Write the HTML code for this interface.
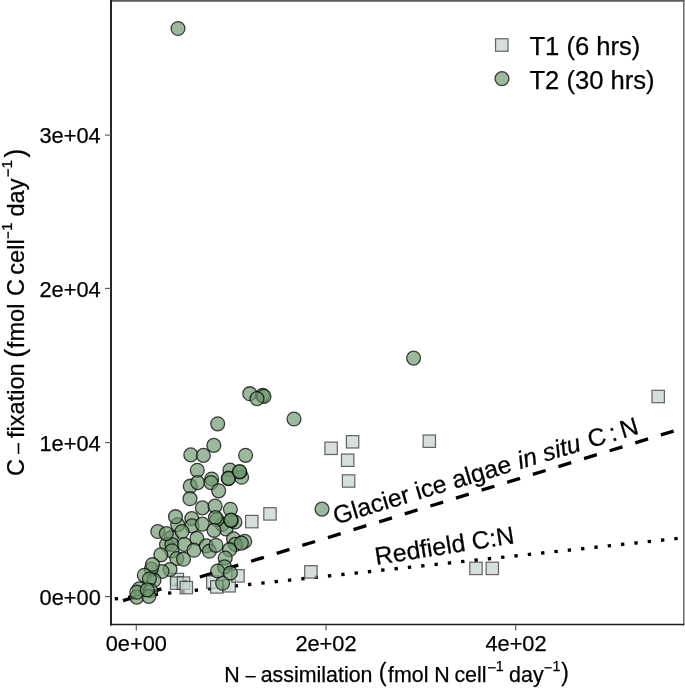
<!DOCTYPE html>
<html><head><meta charset="utf-8"><style>
html,body{margin:0;padding:0;background:#fff;}
svg{display:block;}
text{font-family:"Liberation Sans",sans-serif;fill:#000;stroke:#000;stroke-width:0.25px;}
</style></head><body>
<div style="position:relative;width:685px;height:688px;overflow:hidden">
<svg width="685" height="688" viewBox="0 0 685 688" style="position:absolute;left:0;top:0">
<rect x="0" y="0" width="685" height="688" fill="#fff"/>
<defs><clipPath id="pc"><rect x="111" y="0.5" width="572.5" height="624.3"/></clipPath></defs>

<g clip-path="url(#pc)">
<line x1="71.80" y1="616.47" x2="700.00" y2="422.92" stroke="#000" stroke-width="3.35" stroke-dasharray="13.400 13.400"/>
<line x1="88.09" y1="601.78" x2="700.00" y2="536.04" stroke="#000" stroke-width="3.35" stroke-dasharray="3.350 10.050"/>
<rect x="652.00" y="390.30" width="12.4" height="12.4" fill="rgba(196,209,206,0.7)" stroke="rgba(40,40,40,0.7)" stroke-width="1.2"/>
<rect x="423.10" y="435.00" width="12.4" height="12.4" fill="rgba(196,209,206,0.7)" stroke="rgba(40,40,40,0.7)" stroke-width="1.2"/>
<rect x="346.40" y="435.60" width="12.4" height="12.4" fill="rgba(196,209,206,0.7)" stroke="rgba(40,40,40,0.7)" stroke-width="1.2"/>
<rect x="324.90" y="442.10" width="12.4" height="12.4" fill="rgba(196,209,206,0.7)" stroke="rgba(40,40,40,0.7)" stroke-width="1.2"/>
<rect x="341.50" y="454.00" width="12.4" height="12.4" fill="rgba(196,209,206,0.7)" stroke="rgba(40,40,40,0.7)" stroke-width="1.2"/>
<rect x="342.40" y="474.80" width="12.4" height="12.4" fill="rgba(196,209,206,0.7)" stroke="rgba(40,40,40,0.7)" stroke-width="1.2"/>
<rect x="263.80" y="507.70" width="12.4" height="12.4" fill="rgba(196,209,206,0.7)" stroke="rgba(40,40,40,0.7)" stroke-width="1.2"/>
<rect x="245.60" y="515.40" width="12.4" height="12.4" fill="rgba(196,209,206,0.7)" stroke="rgba(40,40,40,0.7)" stroke-width="1.2"/>
<rect x="304.70" y="565.70" width="12.4" height="12.4" fill="rgba(196,209,206,0.7)" stroke="rgba(40,40,40,0.7)" stroke-width="1.2"/>
<rect x="469.80" y="562.20" width="12.4" height="12.4" fill="rgba(196,209,206,0.7)" stroke="rgba(40,40,40,0.7)" stroke-width="1.2"/>
<rect x="486.10" y="562.20" width="12.4" height="12.4" fill="rgba(196,209,206,0.7)" stroke="rgba(40,40,40,0.7)" stroke-width="1.2"/>
<rect x="171.10" y="573.30" width="12.4" height="12.4" fill="rgba(196,209,206,0.7)" stroke="rgba(40,40,40,0.7)" stroke-width="1.2"/>
<rect x="170.40" y="576.90" width="12.4" height="12.4" fill="rgba(196,209,206,0.7)" stroke="rgba(40,40,40,0.7)" stroke-width="1.2"/>
<rect x="177.30" y="576.90" width="12.4" height="12.4" fill="rgba(196,209,206,0.7)" stroke="rgba(40,40,40,0.7)" stroke-width="1.2"/>
<rect x="180.10" y="581.40" width="12.4" height="12.4" fill="rgba(196,209,206,0.7)" stroke="rgba(40,40,40,0.7)" stroke-width="1.2"/>
<rect x="206.60" y="575.90" width="12.4" height="12.4" fill="rgba(196,209,206,0.7)" stroke="rgba(40,40,40,0.7)" stroke-width="1.2"/>
<rect x="210.60" y="580.70" width="12.4" height="12.4" fill="rgba(196,209,206,0.7)" stroke="rgba(40,40,40,0.7)" stroke-width="1.2"/>
<rect x="223.00" y="579.60" width="12.4" height="12.4" fill="rgba(196,209,206,0.7)" stroke="rgba(40,40,40,0.7)" stroke-width="1.2"/>
<rect x="231.80" y="569.70" width="12.4" height="12.4" fill="rgba(196,209,206,0.7)" stroke="rgba(40,40,40,0.7)" stroke-width="1.2"/>
<circle cx="178" cy="28.5" r="6.95" fill="rgba(110,150,110,0.68)" stroke="rgba(0,0,0,0.72)" stroke-width="1.3"/>
<circle cx="413.6" cy="358.1" r="6.95" fill="rgba(110,150,110,0.68)" stroke="rgba(0,0,0,0.72)" stroke-width="1.3"/>
<circle cx="294" cy="419" r="6.95" fill="rgba(110,150,110,0.68)" stroke="rgba(0,0,0,0.72)" stroke-width="1.3"/>
<circle cx="322" cy="509.1" r="6.95" fill="rgba(110,150,110,0.68)" stroke="rgba(0,0,0,0.72)" stroke-width="1.3"/>
<circle cx="249.8" cy="393.7" r="6.95" fill="rgba(110,150,110,0.68)" stroke="rgba(0,0,0,0.72)" stroke-width="1.3"/>
<circle cx="262.5" cy="395.3" r="6.95" fill="rgba(110,150,110,0.68)" stroke="rgba(0,0,0,0.72)" stroke-width="1.3"/>
<circle cx="264" cy="396.3" r="6.95" fill="rgba(110,150,110,0.68)" stroke="rgba(0,0,0,0.72)" stroke-width="1.3"/>
<circle cx="257" cy="398.6" r="6.95" fill="rgba(110,150,110,0.68)" stroke="rgba(0,0,0,0.72)" stroke-width="1.3"/>
<circle cx="217.7" cy="423.8" r="6.95" fill="rgba(110,150,110,0.68)" stroke="rgba(0,0,0,0.72)" stroke-width="1.3"/>
<circle cx="213.8" cy="445.4" r="6.95" fill="rgba(110,150,110,0.68)" stroke="rgba(0,0,0,0.72)" stroke-width="1.3"/>
<circle cx="190.8" cy="454.9" r="6.95" fill="rgba(110,150,110,0.68)" stroke="rgba(0,0,0,0.72)" stroke-width="1.3"/>
<circle cx="203.4" cy="455.4" r="6.95" fill="rgba(110,150,110,0.68)" stroke="rgba(0,0,0,0.72)" stroke-width="1.3"/>
<circle cx="245.6" cy="455.3" r="6.95" fill="rgba(110,150,110,0.68)" stroke="rgba(0,0,0,0.72)" stroke-width="1.3"/>
<circle cx="197.3" cy="470.3" r="6.95" fill="rgba(110,150,110,0.68)" stroke="rgba(0,0,0,0.72)" stroke-width="1.3"/>
<circle cx="190.3" cy="486.2" r="6.95" fill="rgba(110,150,110,0.68)" stroke="rgba(0,0,0,0.72)" stroke-width="1.3"/>
<circle cx="197.7" cy="482.6" r="6.95" fill="rgba(110,150,110,0.68)" stroke="rgba(0,0,0,0.72)" stroke-width="1.3"/>
<circle cx="211.7" cy="479.0" r="6.95" fill="rgba(110,150,110,0.68)" stroke="rgba(0,0,0,0.72)" stroke-width="1.3"/>
<circle cx="211.0" cy="482.6" r="6.95" fill="rgba(110,150,110,0.68)" stroke="rgba(0,0,0,0.72)" stroke-width="1.3"/>
<circle cx="218.7" cy="490.8" r="6.95" fill="rgba(110,150,110,0.68)" stroke="rgba(0,0,0,0.72)" stroke-width="1.3"/>
<circle cx="229.9" cy="470.0" r="6.95" fill="rgba(110,150,110,0.68)" stroke="rgba(0,0,0,0.72)" stroke-width="1.3"/>
<circle cx="228.3" cy="478.6" r="6.95" fill="rgba(110,150,110,0.68)" stroke="rgba(0,0,0,0.72)" stroke-width="1.3"/>
<circle cx="228.6" cy="478.2" r="6.95" fill="rgba(110,150,110,0.68)" stroke="rgba(0,0,0,0.72)" stroke-width="1.3"/>
<circle cx="241.6" cy="477.2" r="6.95" fill="rgba(110,150,110,0.68)" stroke="rgba(0,0,0,0.72)" stroke-width="1.3"/>
<circle cx="239.8" cy="472.0" r="6.95" fill="rgba(110,150,110,0.68)" stroke="rgba(0,0,0,0.72)" stroke-width="1.3"/>
<circle cx="239.5" cy="471.5" r="6.95" fill="rgba(110,150,110,0.68)" stroke="rgba(0,0,0,0.72)" stroke-width="1.3"/>
<circle cx="190.0" cy="498.7" r="6.95" fill="rgba(110,150,110,0.68)" stroke="rgba(0,0,0,0.72)" stroke-width="1.3"/>
<circle cx="222" cy="524.5" r="6.95" fill="rgba(110,150,110,0.68)" stroke="rgba(0,0,0,0.72)" stroke-width="1.3"/>
<circle cx="226" cy="529" r="6.95" fill="rgba(110,150,110,0.68)" stroke="rgba(0,0,0,0.72)" stroke-width="1.3"/>
<circle cx="216.9" cy="519.5" r="6.95" fill="rgba(110,150,110,0.68)" stroke="rgba(0,0,0,0.72)" stroke-width="1.3"/>
<circle cx="202.4" cy="507.9" r="6.95" fill="rgba(110,150,110,0.68)" stroke="rgba(0,0,0,0.72)" stroke-width="1.3"/>
<circle cx="215.1" cy="506.1" r="6.95" fill="rgba(110,150,110,0.68)" stroke="rgba(0,0,0,0.72)" stroke-width="1.3"/>
<circle cx="230.4" cy="509.3" r="6.95" fill="rgba(110,150,110,0.68)" stroke="rgba(0,0,0,0.72)" stroke-width="1.3"/>
<circle cx="234.9" cy="522.0" r="6.95" fill="rgba(110,150,110,0.68)" stroke="rgba(0,0,0,0.72)" stroke-width="1.3"/>
<circle cx="231.3" cy="520.6" r="6.95" fill="rgba(110,150,110,0.68)" stroke="rgba(0,0,0,0.72)" stroke-width="1.3"/>
<circle cx="230.9" cy="520.1" r="6.95" fill="rgba(110,150,110,0.68)" stroke="rgba(0,0,0,0.72)" stroke-width="1.3"/>
<circle cx="215.4" cy="517.6" r="6.95" fill="rgba(110,150,110,0.68)" stroke="rgba(0,0,0,0.72)" stroke-width="1.3"/>
<circle cx="177.7" cy="524.7" r="6.95" fill="rgba(110,150,110,0.68)" stroke="rgba(0,0,0,0.72)" stroke-width="1.3"/>
<circle cx="175.5" cy="516.7" r="6.95" fill="rgba(110,150,110,0.68)" stroke="rgba(0,0,0,0.72)" stroke-width="1.3"/>
<circle cx="191.8" cy="518.6" r="6.95" fill="rgba(110,150,110,0.68)" stroke="rgba(0,0,0,0.72)" stroke-width="1.3"/>
<circle cx="192.0" cy="525.9" r="6.95" fill="rgba(110,150,110,0.68)" stroke="rgba(0,0,0,0.72)" stroke-width="1.3"/>
<circle cx="202.3" cy="524.1" r="6.95" fill="rgba(110,150,110,0.68)" stroke="rgba(0,0,0,0.72)" stroke-width="1.3"/>
<circle cx="214" cy="530.3" r="6.95" fill="rgba(110,150,110,0.68)" stroke="rgba(0,0,0,0.72)" stroke-width="1.3"/>
<circle cx="171.4" cy="537.5" r="6.95" fill="rgba(110,150,110,0.68)" stroke="rgba(0,0,0,0.72)" stroke-width="1.3"/>
<circle cx="166.5" cy="544.5" r="6.95" fill="rgba(110,150,110,0.68)" stroke="rgba(0,0,0,0.72)" stroke-width="1.3"/>
<circle cx="171.9" cy="544.5" r="6.95" fill="rgba(110,150,110,0.68)" stroke="rgba(0,0,0,0.72)" stroke-width="1.3"/>
<circle cx="171.9" cy="550.8" r="6.95" fill="rgba(110,150,110,0.68)" stroke="rgba(0,0,0,0.72)" stroke-width="1.3"/>
<circle cx="176.8" cy="558.5" r="6.95" fill="rgba(110,150,110,0.68)" stroke="rgba(0,0,0,0.72)" stroke-width="1.3"/>
<circle cx="196.9" cy="538.4" r="6.95" fill="rgba(110,150,110,0.68)" stroke="rgba(0,0,0,0.72)" stroke-width="1.3"/>
<circle cx="157.8" cy="531.5" r="6.95" fill="rgba(110,150,110,0.68)" stroke="rgba(0,0,0,0.72)" stroke-width="1.3"/>
<circle cx="166.3" cy="533.6" r="6.95" fill="rgba(110,150,110,0.68)" stroke="rgba(0,0,0,0.72)" stroke-width="1.3"/>
<circle cx="182" cy="531.5" r="6.95" fill="rgba(110,150,110,0.68)" stroke="rgba(0,0,0,0.72)" stroke-width="1.3"/>
<circle cx="184.5" cy="544.5" r="6.95" fill="rgba(110,150,110,0.68)" stroke="rgba(0,0,0,0.72)" stroke-width="1.3"/>
<circle cx="160.8" cy="554.8" r="6.95" fill="rgba(110,150,110,0.68)" stroke="rgba(0,0,0,0.72)" stroke-width="1.3"/>
<circle cx="183.5" cy="559.2" r="6.95" fill="rgba(110,150,110,0.68)" stroke="rgba(0,0,0,0.72)" stroke-width="1.3"/>
<circle cx="194" cy="550.2" r="6.95" fill="rgba(110,150,110,0.68)" stroke="rgba(0,0,0,0.72)" stroke-width="1.3"/>
<circle cx="206.3" cy="545.8" r="6.95" fill="rgba(110,150,110,0.68)" stroke="rgba(0,0,0,0.72)" stroke-width="1.3"/>
<circle cx="209.4" cy="551.2" r="6.95" fill="rgba(110,150,110,0.68)" stroke="rgba(0,0,0,0.72)" stroke-width="1.3"/>
<circle cx="216" cy="545.3" r="6.95" fill="rgba(110,150,110,0.68)" stroke="rgba(0,0,0,0.72)" stroke-width="1.3"/>
<circle cx="170" cy="569.5" r="6.95" fill="rgba(110,150,110,0.68)" stroke="rgba(0,0,0,0.72)" stroke-width="1.3"/>
<circle cx="162" cy="571.5" r="6.95" fill="rgba(110,150,110,0.68)" stroke="rgba(0,0,0,0.72)" stroke-width="1.3"/>
<circle cx="151.3" cy="569.1" r="6.95" fill="rgba(110,150,110,0.68)" stroke="rgba(0,0,0,0.72)" stroke-width="1.3"/>
<circle cx="152.5" cy="564.5" r="6.95" fill="rgba(110,150,110,0.68)" stroke="rgba(0,0,0,0.72)" stroke-width="1.3"/>
<circle cx="233.5" cy="538.8" r="6.95" fill="rgba(110,150,110,0.68)" stroke="rgba(0,0,0,0.72)" stroke-width="1.3"/>
<circle cx="244.7" cy="541.4" r="6.95" fill="rgba(110,150,110,0.68)" stroke="rgba(0,0,0,0.72)" stroke-width="1.3"/>
<circle cx="235.3" cy="544.4" r="6.95" fill="rgba(110,150,110,0.68)" stroke="rgba(0,0,0,0.72)" stroke-width="1.3"/>
<circle cx="229.6" cy="549.7" r="6.95" fill="rgba(110,150,110,0.68)" stroke="rgba(0,0,0,0.72)" stroke-width="1.3"/>
<circle cx="241.4" cy="543.1" r="6.95" fill="rgba(110,150,110,0.68)" stroke="rgba(0,0,0,0.72)" stroke-width="1.3"/>
<circle cx="225.2" cy="558" r="6.95" fill="rgba(110,150,110,0.68)" stroke="rgba(0,0,0,0.72)" stroke-width="1.3"/>
<circle cx="224.5" cy="566.8" r="6.95" fill="rgba(110,150,110,0.68)" stroke="rgba(0,0,0,0.72)" stroke-width="1.3"/>
<circle cx="222.6" cy="583.2" r="6.95" fill="rgba(110,150,110,0.68)" stroke="rgba(0,0,0,0.72)" stroke-width="1.3"/>
<circle cx="217.6" cy="571" r="6.95" fill="rgba(110,150,110,0.68)" stroke="rgba(0,0,0,0.72)" stroke-width="1.3"/>
<circle cx="230.4" cy="573" r="6.95" fill="rgba(110,150,110,0.68)" stroke="rgba(0,0,0,0.72)" stroke-width="1.3"/>
<circle cx="144.3" cy="575.3" r="6.95" fill="rgba(110,150,110,0.68)" stroke="rgba(0,0,0,0.72)" stroke-width="1.3"/>
<circle cx="154" cy="580.2" r="6.95" fill="rgba(110,150,110,0.68)" stroke="rgba(0,0,0,0.72)" stroke-width="1.3"/>
<circle cx="149.4" cy="579" r="6.95" fill="rgba(110,150,110,0.68)" stroke="rgba(0,0,0,0.72)" stroke-width="1.3"/>
<circle cx="139.3" cy="588.8" r="6.95" fill="rgba(110,150,110,0.68)" stroke="rgba(0,0,0,0.72)" stroke-width="1.3"/>
<circle cx="150.7" cy="590.5" r="6.95" fill="rgba(110,150,110,0.68)" stroke="rgba(0,0,0,0.72)" stroke-width="1.3"/>
<circle cx="136.8" cy="597.1" r="6.95" fill="rgba(110,150,110,0.68)" stroke="rgba(0,0,0,0.72)" stroke-width="1.3"/>
<circle cx="148.8" cy="596.4" r="6.95" fill="rgba(110,150,110,0.68)" stroke="rgba(0,0,0,0.72)" stroke-width="1.3"/>
<circle cx="136.8" cy="592.2" r="6.95" fill="rgba(110,150,110,0.68)" stroke="rgba(0,0,0,0.72)" stroke-width="1.3"/>
<circle cx="147.3" cy="589.9" r="6.95" fill="rgba(110,150,110,0.68)" stroke="rgba(0,0,0,0.72)" stroke-width="1.3"/>
</g>
<line x1="110" y1="0.9" x2="684.5" y2="0.9" stroke="#5c5c5c" stroke-width="1.8"/>
<line x1="683.8" y1="0" x2="683.8" y2="625.4" stroke="#606060" stroke-width="1.4"/>
<line x1="111" y1="0" x2="111" y2="625.4" stroke="#1c1c1c" stroke-width="1.9"/>
<line x1="110" y1="624.55" x2="684" y2="624.55" stroke="#1c1c1c" stroke-width="1.6"/>
<line x1="105" y1="135.1" x2="111" y2="135.1" stroke="#555" stroke-width="1.1"/>
<line x1="105" y1="288.4" x2="111" y2="288.4" stroke="#555" stroke-width="1.1"/>
<line x1="105" y1="442.6" x2="111" y2="442.6" stroke="#555" stroke-width="1.1"/>
<line x1="105" y1="596.6" x2="111" y2="596.6" stroke="#555" stroke-width="1.1"/>
<line x1="136.3" y1="624.8" x2="136.3" y2="630.5" stroke="#555" stroke-width="1.1"/>
<line x1="326.0" y1="624.8" x2="326.0" y2="630.5" stroke="#555" stroke-width="1.1"/>
<line x1="515.7" y1="624.8" x2="515.7" y2="630.5" stroke="#555" stroke-width="1.1"/>
</svg>
<svg width="685" height="688" viewBox="0 0 685 688" style="position:absolute;left:0;top:0;will-change:transform">
<text x="39.44" y="143.40" font-size="21.8">3e+04</text>
<text x="39.44" y="296.70" font-size="21.8">2e+04</text>
<text x="39.44" y="450.90" font-size="21.8">1e+04</text>
<text x="39.61" y="604.90" font-size="21.8">0e+00</text>
<text x="105.67" y="650.70" font-size="21.8">0e+00</text>
<text x="295.39" y="650.70" font-size="21.8">2e+02</text>
<text x="485.40" y="650.70" font-size="21.8">4e+02</text>
<text x="224.35" y="682.00" font-size="21.4">N</text>
<text x="260.70" y="682.00" font-size="21.4">assimilation</text>
<text x="388.00" y="682.00" font-size="21.4">fmol N</text>
<text x="454.40" y="682.00" font-size="21.4">cell</text>
<text x="495.72" y="670.80" font-size="14.2">1</text>
<text x="509.10" y="682.00" font-size="21.4">day</text>
<text x="552.62" y="670.80" font-size="14.2">1</text>
<rect x="245.50" y="675.95" width="10.20" height="1.5" fill="#000"/>
<rect x="488.00" y="667.15" width="7.70" height="1.3" fill="#000"/>
<rect x="544.50" y="667.15" width="7.20" height="1.3" fill="#000"/>
<text transform="matrix(1.0599,0,0,1.1960,378.867,681.277)" x="0" y="0" font-size="21.8">(</text>
<text transform="matrix(1.0425,0,0,1.1911,561.264,680.999)" x="0" y="0" font-size="21.8">)</text>
<g transform="translate(24.1,475.1) rotate(-90)"><text x="-0.88" y="0.00" font-size="23.6">C</text><text x="37.07" y="0.00" font-size="23.6">fixation</text><text x="126.97" y="0.00" font-size="23.6">fmol</text><text x="179.22" y="0.00" font-size="23.6">C</text><text x="200.41" y="0.00" font-size="23.6">cell</text><text x="244.13" y="-11.90" font-size="15.4">1</text><text x="258.51" y="0.00" font-size="23.6">day</text><text x="306.63" y="-11.90" font-size="15.4">1</text><rect x="21.20" y="-6.40" width="10.90" height="1.6" fill="#000"/><rect x="236.60" y="-16.70" width="6.80" height="1.4" fill="#000"/><rect x="298.50" y="-16.70" width="7.50" height="1.4" fill="#000"/><text transform="matrix(1.1396,0,0,1.1866,117.433,-0.525)" x="0" y="0" font-size="23.6">(</text><text transform="matrix(1.1075,0,0,1.1866,317.543,-0.525)" x="0" y="0" font-size="23.6">)</text></g>
<rect x="495.55" y="38.75" width="12.5" height="12.5" fill="rgba(196,209,206,0.7)" stroke="rgba(40,40,40,0.7)" stroke-width="1.2"/>
<circle cx="502" cy="78.6" r="6.95" fill="rgba(110,150,110,0.68)" stroke="rgba(0,0,0,0.72)" stroke-width="1.3"/>
<text x="529.44" y="54.50" font-size="25.6">T1 (6 hrs)</text>
<text x="529.44" y="88.50" font-size="25.6">T2 (30 hrs)</text>
<g transform="translate(334,524) rotate(-16.7)"><text x="1.86" y="1.00" font-size="24.8">Glacier ice algae</text><text x="194.10" y="1.00" font-size="24.8" font-style="italic">in situ</text><text x="267.56" y="1.00" font-size="24.8">C</text><text x="301.17" y="1.00" font-size="24.8">N</text><text x="289.95" y="1.00" font-size="24.8">:</text></g>
<text transform="translate(376.37,564.90) rotate(-8.900)" font-size="24.8">Redfield C:N</text>
</svg></div></body></html>
